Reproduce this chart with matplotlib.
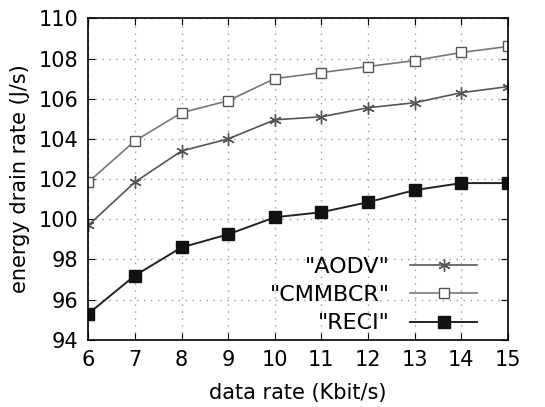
import matplotlib.pyplot as plt

data_rate = [6, 7, 8, 9, 10, 11, 12, 13, 14, 15]
aodv = [99.7, 101.85, 103.4, 104.0, 104.95, 105.1, 105.55, 105.8, 106.3, 106.6]
cmmbcr = [101.85, 103.9, 105.3, 105.9, 107.0, 107.3, 107.6, 107.9, 108.3, 108.6]
reci = [95.3, 97.2, 98.6, 99.25, 100.1, 100.35, 100.85, 101.45, 101.8, 101.8]

plt.rcParams['font.family'] = 'DejaVu Sans'
fig, ax = plt.subplots(figsize=(5.45, 4.07), dpi=100)
fig.subplots_adjust(left=0.162, right=0.932, top=0.955, bottom=0.165)

ax.plot(data_rate, aodv, '-', color='#555555', lw=1.2, marker=(6, 2, 0),
        ms=9, mew=1.0, label='"AODV"')
ax.plot(data_rate, cmmbcr, '-', color='#777777', lw=1.2, marker='s', ms=7,
        mfc='white', mec='#555555', mew=1.0, label='"CMMBCR"')
ax.plot(data_rate, reci, '-', color='#222222', lw=1.4, marker='s', ms=8,
        mfc='#111111', mec='#111111', label='"RECI"')

ax.set_xlim(6, 15)
ax.set_ylim(94, 110)
ax.set_xticks(range(6, 16))
ax.set_yticks(range(94, 111, 2))
ax.tick_params(direction='in', top=True, right=True, labelsize=15, length=5,
               pad=7)
ax.grid(True, color='#999999', linestyle=(0, (1, 4)), lw=1.0)
for s in ax.spines.values():
    s.set_linewidth(1.2)

ax.set_xlabel('data rate (Kbit/s)', fontsize=15, labelpad=10)
ax.set_ylabel('energy drain rate (J/s)', fontsize=15, labelpad=6)

leg = ax.legend(loc='lower right', frameon=False, markerfirst=False,
                fontsize=16, handlelength=3.0, labelspacing=0.38,
                handletextpad=0.9, borderpad=0, borderaxespad=0,
                bbox_to_anchor=(0.926, 0.02))
for t in leg.get_texts():
    t.set_ha('right')
leg._legend_box.align = 'right'

plt.savefig('out.png')
